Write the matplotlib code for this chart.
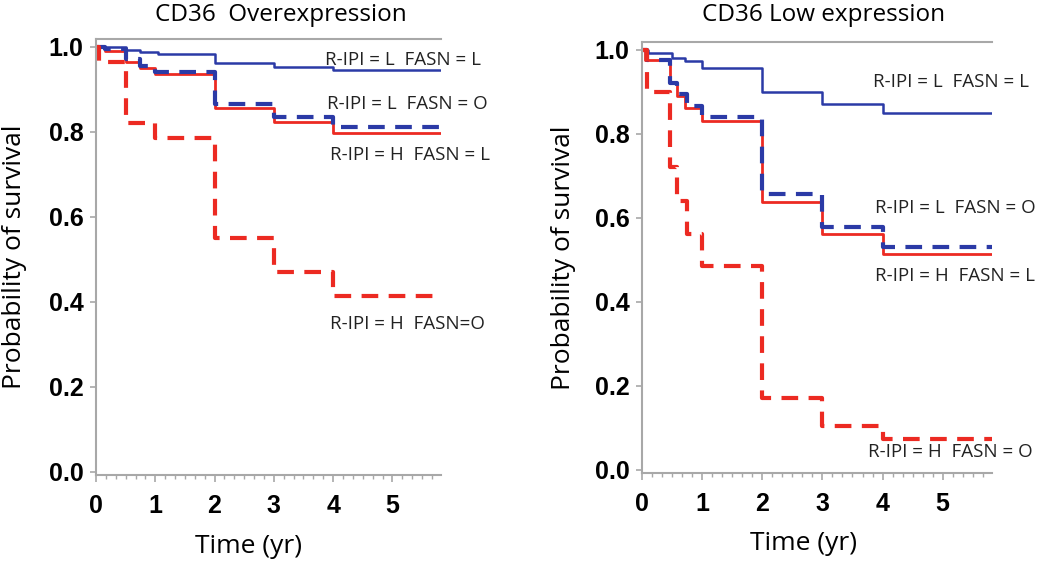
import matplotlib
matplotlib.use("Agg")
import matplotlib.pyplot as plt
from matplotlib.ticker import MultipleLocator

# ---- data ----
x_end = 5.82

# CD36 overexpression panel
over_ll_t = [0, 0.5, 0.75, 1.05, 2.0, 3.0, 4.0]
over_ll_s = [1.0, 0.993, 0.988, 0.983, 0.962, 0.952, 0.946]
over_lo_t = [0, 0.15, 0.5, 0.75, 1.0, 2.0, 3.0, 4.0]
over_lo_s = [1.0, 0.995, 0.97, 0.955, 0.94, 0.865, 0.834, 0.81]
over_hl_t = [0, 0.15, 0.5, 0.75, 1.0, 2.0, 3.0, 4.0]
over_hl_s = [1.0, 0.99, 0.965, 0.95, 0.935, 0.856, 0.822, 0.796]
over_ho_t = [0, 0.05, 0.5, 1.0, 2.0, 3.0, 4.0]
over_ho_s = [1.0, 0.965, 0.82, 0.785, 0.55, 0.47, 0.413]

# CD36 low expression panel
low_ll_t = [0, 0.1, 0.5, 0.72, 1.0, 2.0, 3.0, 4.0]
low_ll_s = [1.0, 0.992, 0.98, 0.972, 0.955, 0.9, 0.87, 0.85]
low_lo_t = [0, 0.08, 0.47, 0.58, 0.75, 1.0, 2.0, 3.0, 4.0]
low_lo_s = [1.0, 0.975, 0.92, 0.895, 0.865, 0.84, 0.655, 0.578, 0.53]
low_hl_t = [0, 0.05, 0.47, 0.58, 0.72, 1.0, 2.0, 3.0, 4.0]
low_hl_s = [1.0, 0.975, 0.92, 0.89, 0.86, 0.83, 0.636, 0.562, 0.513]
low_ho_t = [0, 0.08, 0.47, 0.59, 0.75, 1.0, 2.0, 3.0, 4.0]
low_ho_s = [1.0, 0.90, 0.72, 0.64, 0.56, 0.485, 0.17, 0.105, 0.073]

# label text and where it sits (data coords)
over_labels = ["R-IPI = L  FASN = L", "R-IPI = L  FASN = O",
               "R-IPI = H  FASN = L", "R-IPI = H  FASN=O"]
over_lab_x = [3.86, 3.9, 3.95, 3.95]
over_lab_y = [0.969, 0.866, 0.745, 0.348]
low_labels = ["R-IPI = L  FASN = L", "R-IPI = L  FASN = O",
              "R-IPI = H  FASN = L", "R-IPI = H  FASN = O"]
low_lab_x = [3.84, 3.88, 3.88, 3.76]
low_lab_y = [0.923, 0.622, 0.462, 0.043]

BLUE = "#2b3aa6"
RED = "#ec2a22"
GREY = "#a8a8a8"
TXT = "Open Sans"

fig = plt.figure(figsize=(10.5, 5.62), dpi=100)
ax1 = fig.add_axes([96 / 1050, 1 - 475 / 562, 345 / 1050, 436 / 562])
ax2 = fig.add_axes([642 / 1050, 1 - 473 / 562, 350 / 1050, 431 / 562])


def km(ax, t, s, **kw):
    # extend last value to end of follow-up
    ax.step(list(t) + [x_end], list(s) + [s[-1]], where="post", **kw)


def setup(ax, title, tx, ty, xl_x):
    ax.set_xlim(0, x_end)
    ax.set_ylim(-0.008, 1.018)
    ax.spines["right"].set_visible(False)
    for sp in ["left", "bottom", "top"]:
        ax.spines[sp].set_color(GREY)
        ax.spines[sp].set_linewidth(1.5)
    ax.set_xticks([0, 1, 2, 3, 4, 5])
    ax.set_yticks([0.0, 0.2, 0.4, 0.6, 0.8, 1.0])
    ax.set_yticklabels(["0.0", "0.2", "0.4", "0.6", "0.8", "1.0"])
    ax.xaxis.set_minor_locator(MultipleLocator(1 / 6))
    ax.tick_params(axis="x", which="major", length=5, width=1.2, color=GREY, pad=9)
    ax.tick_params(axis="x", which="minor", length=3, width=1, color=GREY)
    ax.tick_params(axis="y", which="major", length=4, width=1.2, color=GREY, pad=5)
    for lab in ax.get_xticklabels() + ax.get_yticklabels():
        lab.set_fontfamily("Liberation Sans")
        lab.set_fontweight("bold")
        lab.set_fontsize(18)
    ax.set_xlabel("Time (yr)", fontsize=19, family=TXT)
    ax.xaxis.set_label_coords(xl_x, -0.135)
    ax.set_ylabel("Probability of survival", fontsize=19, family=TXT)
    ax.text(tx, ty, title, transform=ax.transAxes, ha="center", va="center",
            fontsize=17.5, family=TXT)


# left panel
km(ax1, over_hl_t, over_hl_s, color=RED, lw=2)
km(ax1, over_lo_t, over_lo_s, color=BLUE, lw=3, ls=(0, (4, 2.5)))
km(ax1, over_ll_t, over_ll_s, color=BLUE, lw=1.8)
km(ax1, over_ho_t, over_ho_s, color=RED, lw=3, ls=(0, (4, 2.5)))
for s, x, y in zip(over_labels, over_lab_x, over_lab_y):
    ax1.text(x, y, s, ha="left", va="center", fontsize=13.5, family=TXT,
             color="#222222", clip_on=False)
setup(ax1, "CD36  Overexpression", 0.536, 1.055, 0.443)
ax1.yaxis.set_label_coords(-0.2, 0.5)

# right panel
km(ax2, low_hl_t, low_hl_s, color=RED, lw=2)
km(ax2, low_lo_t, low_lo_s, color=BLUE, lw=3, ls=(0, (4, 2.5)))
km(ax2, low_ll_t, low_ll_s, color=BLUE, lw=1.8)
km(ax2, low_ho_t, low_ho_s, color=RED, lw=3, ls=(0, (4, 2.5)))
for s, x, y in zip(low_labels, low_lab_x, low_lab_y):
    ax2.text(x, y, s, ha="left", va="center", fontsize=13.5, family=TXT,
             color="#222222", clip_on=False)
setup(ax2, "CD36 Low expression", 0.52, 1.062, 0.46)
ax2.yaxis.set_label_coords(-0.19, 0.5)

fig.savefig("out.png", dpi=100)
